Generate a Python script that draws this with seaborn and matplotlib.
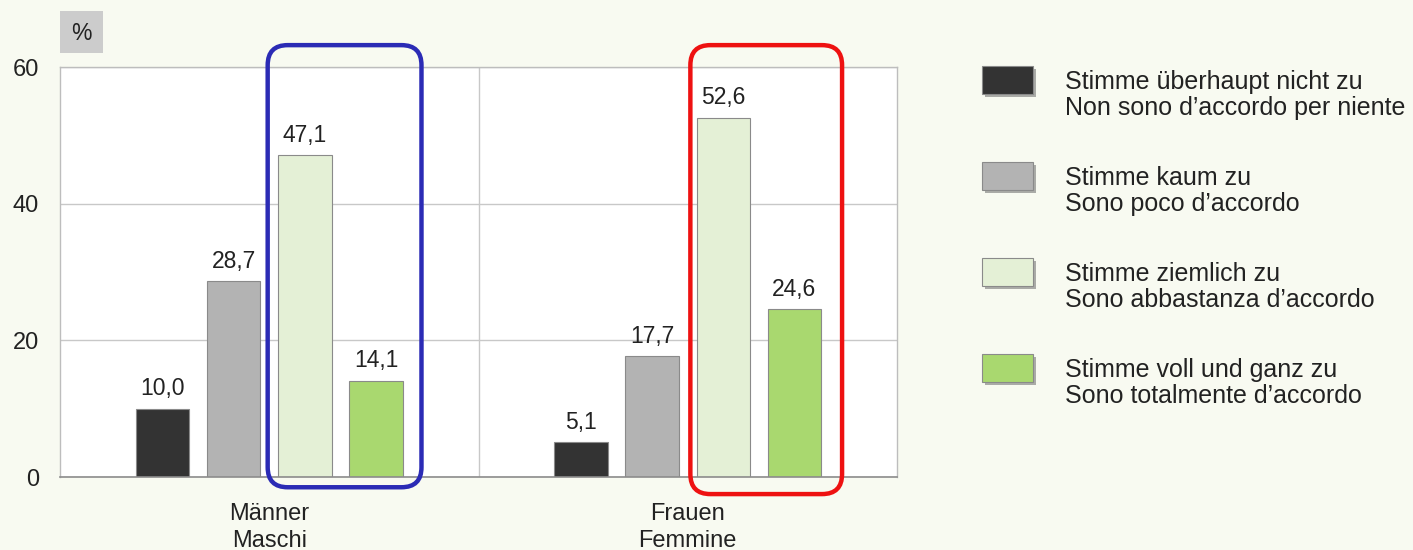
"""
Agreement by gender (Männer / Frauen), grouped bar chart.
"""

import matplotlib.pyplot as plt
import matplotlib.patheffects as pe
import pandas as pd
import seaborn as sns
from matplotlib.patches import FancyBboxPatch, Rectangle
from matplotlib.transforms import IdentityTransform

# ==========================================================
# Data
# ==========================================================

groups = ["Männer\nMaschi", "Frauen\nFemmine"]

responses = [
    "Stimme überhaupt nicht zu\nNon sono d’accordo per niente",
    "Stimme kaum zu\nSono poco d’accordo",
    "Stimme ziemlich zu\nSono abbastanza d’accordo",
    "Stimme voll und ganz zu\nSono totalmente d’accordo",
]

maenner = [10.0, 28.7, 47.1, 14.1]
frauen = [5.1, 17.7, 52.6, 24.6]

colors = ["#333333", "#b3b3b3", "#e4f0d6", "#a9d86f"]

y_ticks = [0, 20, 40, 60]

# ==========================================================
# Style
# ==========================================================

sns.set_theme(style="white")
plt.rcParams["font.family"] = ["Liberation Sans", "DejaVu Sans"]

BG = "#f8faf1"
W, H = 1413, 550

# ==========================================================
# Build table
# ==========================================================

rows = []
for g, vals in zip(groups, [maenner, frauen]):
    for r, v in zip(responses, vals):
        rows.append({"group": g, "response": r, "value": v})
df = pd.DataFrame(rows)

# ==========================================================
# Plot
# ==========================================================

fig = plt.figure(figsize=(W / 100, H / 100), dpi=100, facecolor=BG)
ax = fig.add_axes([60 / W, 1 - 477 / H, (897 - 60) / W, (477 - 67) / H])
ax.set_facecolor("white")

sns.barplot(
    data=df,
    x="group",
    y="value",
    hue="response",
    hue_order=responses,
    palette=colors,
    saturation=1,
    width=0.68,
    gap=0.25,
    edgecolor="#8a8a8a",
    linewidth=0.8,
    legend=False,
    ax=ax,
)

ax.set_xlim(-0.5, 1.5)
ax.set_ylim(0, 60)
ax.set_yticks(y_ticks)
ax.set_xlabel("")
ax.set_ylabel("")
ax.tick_params(axis="both", length=0, labelsize=17, colors="#222222")
ax.tick_params(axis="x", pad=19)
ax.tick_params(axis="y", pad=15)
for lbl in ax.get_xticklabels():
    lbl.set_linespacing(1.25)

ax.grid(axis="y", color="#c8c8c8", linewidth=1)
ax.set_axisbelow(True)
ax.axvline(0.5, color="#c8c8c8", linewidth=1, zorder=0)
for side in ["left", "top", "right"]:
    ax.spines[side].set_color("#bdbdbd")
    ax.spines[side].set_linewidth(1)
ax.spines["bottom"].set_color("#8c8c8c")
ax.spines["bottom"].set_linewidth(1.2)

# value labels with comma decimals
for container in ax.containers:
    ax.bar_label(
        container,
        labels=[f"{b.get_height():.1f}".replace(".", ",") for b in container],
        padding=6,
        fontsize=16.5,
        color="#222222",
    )

# "%" unit box
fig.add_artist(Rectangle((60 / W, 1 - 53 / H), 43 / W, 42 / H,
                         transform=fig.transFigure, facecolor="#cccccc",
                         edgecolor="none"))
fig.text(81.5 / W, 1 - 33 / H, "%", ha="center", va="center",
         fontsize=16.5, color="#222222")

# ==========================================================
# Highlight boxes (rounded, drawn in pixel space)
# ==========================================================

fig.canvas.draw()
# containers are ordered by hue; each holds one bar per group
highlights = [
    (0, "#2b2bb5", -0.025, 0.045, -1.5),
    (1, "#ee1111", -0.015, 0.050, -2.5),
]
for group_idx, color, m_left, m_right, y_bot in highlights:
    b_left = ax.containers[2][group_idx]
    b_right = ax.containers[3][group_idx]
    x0 = b_left.get_x() + m_left
    x1 = b_right.get_x() + b_right.get_width() + m_right
    (px0, py0) = ax.transData.transform((x0, y_bot))
    (px1, py1) = ax.transData.transform((x1, 63.2))
    box = FancyBboxPatch(
        (px0, py0), px1 - px0, py1 - py0,
        boxstyle="round,pad=0,rounding_size=20",
        transform=IdentityTransform(),
        facecolor="none", edgecolor=color, linewidth=3.2,
        clip_on=False, zorder=10,
    )
    fig.add_artist(box)

# ==========================================================
# Legend (manual, swatches with shadow)
# ==========================================================

for i, (label, color) in enumerate(zip(responses, colors)):
    top = 66 + i * 96
    sw = Rectangle(
        (982 / W, 1 - (top + 28) / H), 51 / W, 28 / H,
        transform=fig.transFigure, facecolor=color,
        edgecolor="#8a8a8a", linewidth=0.8,
        path_effects=[pe.SimplePatchShadow(offset=(2.5, -2.5),
                                           shadow_rgbFace="#777777",
                                           alpha=0.6),
                      pe.Normal()],
    )
    fig.add_artist(sw)
    # baseline of the last line
    fig.text(1065 / W, 1 - (top + 49) / H, label, ha="left", va="baseline",
             fontsize=18, linespacing=1.13, color="#222222")

fig.savefig("out.png", dpi=100, facecolor=BG)
